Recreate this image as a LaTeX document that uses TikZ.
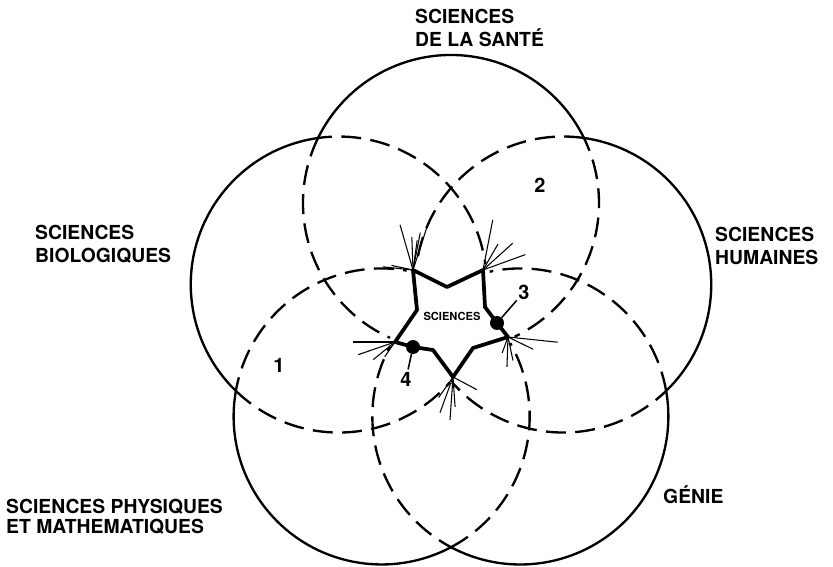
\documentclass[tikz,border=0pt]{standalone}
\usepackage{fontspec}
\setmainfont{TeX Gyre Heros}
\usetikzlibrary{calc}

\begin{document}
\begin{tikzpicture}[x=0.3mm, y=0.3mm,
  solidarc/.style={line width=2pt},
  dasharc/.style={line width=2pt, dash pattern=on 17pt off 8pt},
  mask/.style={draw=white, fill=white, line width=11pt, line join=round},
  core/.style={line width=3.2pt, line join=round},
  fan/.style={line width=0.9pt},
  tick/.style={line width=1.3pt},
  field/.style={font=\fontsize{16.5}{20}\selectfont\bfseries, align=left, inner sep=0pt},
  num/.style={font=\fontsize{17}{20}\selectfont\bfseries, inner sep=0pt},
  dot/.style={circle, fill, inner sep=0pt, minimum size=4.2mm},
]

\useasboundingbox (0,0) rectangle (833,566);

\coordinate (O) at (451,245);

% five fields: solid outside, dashed where they overlap
\foreach \ang/\name in {90/sante, 162/bio, 18/hum, 234/phys, 306/genie} {
  \coordinate (\name) at ($(O)+(\ang:118)$);
  \draw[solidarc] ($(\name)+(\ang-63.9:148)$) arc[start angle=\ang-63.9, end angle=\ang+63.9, radius=148];
  \draw[dasharc] ($(\name)+(\ang+63.9:148)$) arc[start angle=\ang+63.9, end angle=\ang+296.1, radius=148];
}

\node[field, anchor=north west] (lsante) at (415,557) {SCIENCES\\DE LA SANTÉ};
\node[field, anchor=north west] (lbio) at (35,341) {SCIENCES\\BIOLOGIQUES};
\node[field, anchor=north west] (lhum) at (715,339) {SCIENCES\\HUMAINES};
\node[field, anchor=north west] (lphys) at (6,67) {SCIENCES PHYSIQUES\\[-3pt]ET MATHEMATIQUES};
\node[field, anchor=base west] (lgenie) at (663,63) {GÉNIE};

\node[num] (n1) at (279,201) {1};
\node[num] (n2) at (540,381) {2};

% the core of the sciences
\coordinate (A) at (413,296);
\coordinate (N1) at (447,279);
\coordinate (B) at (483,296);
\coordinate (B1) at (485,259);
\coordinate (D3) at (497,243);
\coordinate (C) at (508,229);
\coordinate (C1) at (473,218);
\coordinate (E) at (453,189);
\coordinate (E1) at (433,216);
\coordinate (D4) at (413,219);
\coordinate (F) at (395,224);
\coordinate (F1) at (417,256);

\path[mask] (A) -- (N1) -- (B) -- (B1) -- (D3) -- (C) -- (C1) -- (E) -- (E1) -- (D4) -- (F) -- (F1) -- cycle;
\draw[core] (A) -- (N1) -- (B) -- (B1) -- (D3) -- (C) -- (C1) -- (E) -- (E1) -- (D4) -- (F) -- (F1) -- cycle;

\foreach \a/\l in {106/47, 92/33, 82/30, 79/38, 72/49, 174/30, 168/22}
  \draw[fan] (A) -- ++(\a:\l);
\foreach \a/\l in {79/51, 60/30, 42/40, 20/45}
  \draw[fan] (B) -- ++(\a:\l);
\foreach \a/\l in {-6/50, -26/28, -92/30, -78/24, -110/17}
  \draw[fan] (C) -- ++(\a:\l);
\foreach \a/\l in {-28/27, -110/38, -94/43, -86/30, -125/25}
  \draw[fan] (E) -- ++(\a:\l);
\foreach \a/\l in {180/42, 199/39, 219/28, 235/18}
  \draw[fan] (F) -- ++(\a:\l);

\node[font=\fontsize{9.5}{11}\selectfont\bfseries, inner sep=0pt] (core) at (452,250) {SCIENCES};

\node[dot] (d3) at (D3) {};
\node[dot] (d4) at (D4) {};
\node[num] (n3) at (524,274) {3};
\node[num] (n4) at (406,187) {4};
\draw[tick, shorten >=2pt] (d3) -- (n3);
\draw[tick, shorten >=2pt] (d4) -- (n4);

\end{tikzpicture}
\end{document}
